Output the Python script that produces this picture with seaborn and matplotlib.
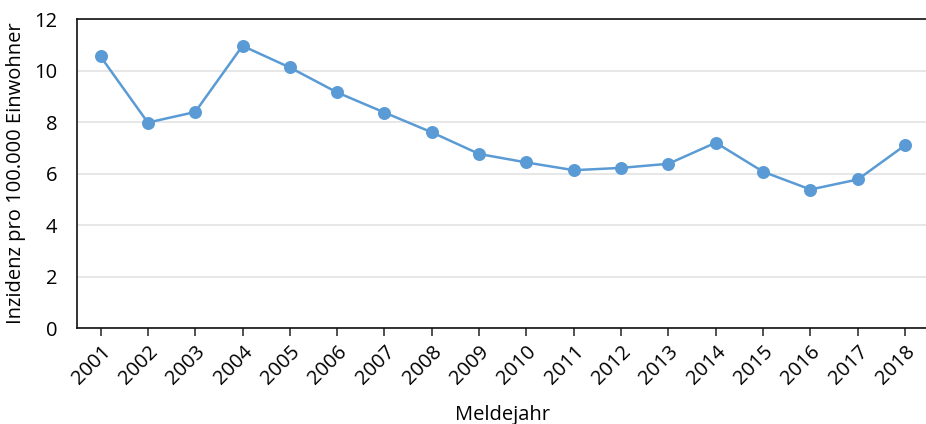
import pandas as pd
import matplotlib
matplotlib.use("Agg")
import matplotlib.pyplot as plt
import seaborn as sns

years = [str(y) for y in range(2001, 2019)]
incidence = [10.55, 7.98, 8.39, 10.96, 10.12, 9.15, 8.37, 7.6, 6.76, 6.43,
             6.13, 6.22, 6.38, 7.2, 6.07, 5.38, 5.77, 7.1]

df = pd.DataFrame({"Meldejahr": years, "Inzidenz": incidence})

sns.set_theme(style="white")
plt.rcParams["font.family"] = ["Open Sans", "DejaVu Sans"]

fig = plt.figure(figsize=(9.26, 4.24), dpi=100)
ax = fig.add_axes([0.083, 0.2264, 0.92, 0.7286])

blue = "#5B9BD5"
sns.pointplot(data=df, x="Meldejahr", y="Inzidenz", color=blue,
              markersize=8, linewidth=1.8, ax=ax)

ax.set_ylim(0, 12)
ax.set_xlim(-0.5, len(years) - 0.5)
ax.set_yticks(range(0, 13, 2))
ax.yaxis.grid(True, color="#e3e3e3", linewidth=1.2)
ax.set_axisbelow(True)

for side in ["left", "top", "bottom"]:
    ax.spines[side].set_visible(True)
    ax.spines[side].set_color("#111111")
    ax.spines[side].set_linewidth(1.2)
ax.spines["right"].set_visible(False)

ax.tick_params(axis="x", bottom=True, length=6, width=1.2, color="#333333",
               labelsize=14.5, labelcolor="black", pad=4)
ax.tick_params(axis="y", left=False, labelsize=14.5, labelcolor="black", pad=8)
plt.setp(ax.get_xticklabels(), rotation=45, ha="right", rotation_mode="anchor")

ax.set_xlabel("Meldejahr", fontsize=14.5, color="black", labelpad=12)
ax.set_ylabel("Inzidenz pro 100.000 Einwohner", fontsize=14.5, color="black",
              labelpad=6)

fig.savefig("out.png", dpi=100)
